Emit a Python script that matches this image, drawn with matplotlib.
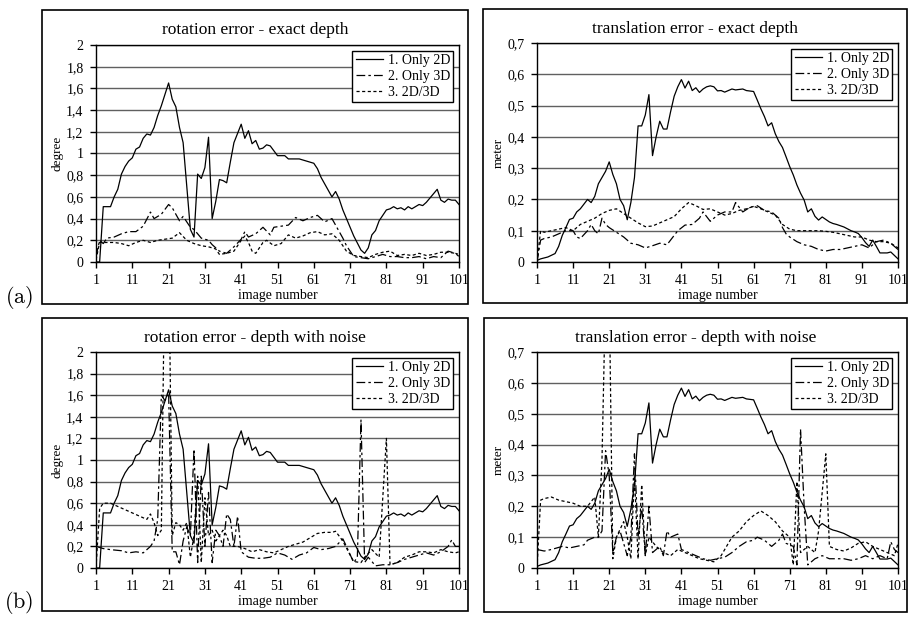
import matplotlib
matplotlib.use('Agg')  # no display here

import matplotlib.pyplot as plt
from matplotlib.patches import Rectangle

plt.rcParams['font.family'] = 'Liberation Serif'

W, H = 909, 617

image_ticks = [1, 11, 21, 31, 41, 51, 61, 71, 81, 91, 101]
rot_ticks = [0, 0.2, 0.4, 0.6, 0.8, 1.0, 1.2, 1.4, 1.6, 1.8, 2.0]
rot_tick_labels = ['0', '0,2', '0,4', '0,6', '0,8', '1', '1,2', '1,4', '1,6', '1,8', '2']
trans_ticks = [0, 0.1, 0.2, 0.3, 0.4, 0.5, 0.6, 0.7]
trans_tick_labels = ['0', '0,1', '0,2', '0,3', '0,4', '0,5', '0,6', '0,7']
series_names = ['1. Only 2D', '2. Only 3D', '3. 2D/3D']

# rotation error, only 2D (same curve in both rows)
rot_2d_x = [1, 2, 3, 5, 6, 7, 8, 9, 10, 11, 12, 13, 14, 15, 16, 17, 18, 19, 21, 22, 23, 24, 25,
            26, 27, 28, 29, 30, 31, 32, 33, 34, 35, 36, 37, 38, 39, 41, 42, 43, 44, 45, 46, 47,
            48, 49, 51, 53, 54, 57, 58, 59, 61, 62, 63, 64, 66, 67, 68, 69, 71, 72, 74, 75, 76,
            77, 78, 79, 81, 82, 83, 84, 85, 86, 87, 88, 89, 90, 91, 92, 94, 95, 96, 97, 98, 99,
            100, 101]
rot_2d_y = [0, 0, 0.51, 0.51, 0.6, 0.67, 0.81, 0.88, 0.93, 0.96, 1.04, 1.06, 1.14, 1.18, 1.17,
            1.24, 1.35, 1.44, 1.65, 1.5, 1.43, 1.24, 1.1, 0.7, 0.3, 0.23, 0.81, 0.77, 0.87, 1.15,
            0.4, 0.56, 0.76, 0.75, 0.73, 0.92, 1.1, 1.27, 1.14, 1.21, 1.09, 1.12, 1.04, 1.05, 1.08,
            1.07, 0.98, 0.98, 0.95, 0.95, 0.94, 0.93, 0.91, 0.86, 0.78, 0.72, 0.6, 0.65, 0.58,
            0.48, 0.32, 0.24, 0.11, 0.08, 0.13, 0.25, 0.29, 0.38, 0.48, 0.49, 0.51, 0.49, 0.5,
            0.48, 0.51, 0.49, 0.51, 0.53, 0.52, 0.55, 0.63, 0.67, 0.57, 0.55, 0.58, 0.57, 0.57,
            0.53]

# rotation error, exact depth
rot_ex_3d_x = [1, 2, 3, 4, 6, 8, 10, 12, 14, 16, 17, 19, 21, 22, 24, 25, 27, 28, 30, 32, 33, 35,
               37, 39, 41, 42, 43, 45, 47, 49, 50, 52, 54, 56, 58, 60, 62, 64, 66, 68, 69, 70,
               72, 74, 76, 78, 80, 82, 84, 86, 88, 90, 92, 94, 96, 98, 100, 101]
rot_ex_3d_y = [0.05, 0.2, 0.17, 0.22, 0.23, 0.26, 0.28, 0.28, 0.33, 0.46, 0.4, 0.44, 0.53, 0.5,
               0.38, 0.42, 0.32, 0.3, 0.22, 0.2, 0.16, 0.1, 0.08, 0.14, 0.21, 0.28, 0.23, 0.26,
               0.32, 0.25, 0.32, 0.33, 0.34, 0.41, 0.38, 0.41, 0.43, 0.37, 0.4, 0.28, 0.22, 0.15,
               0.05, 0.04, 0.03, 0.05, 0.07, 0.05, 0.05, 0.04, 0.04, 0.05, 0.03, 0.05, 0.04, 0.1,
               0.08, 0.07]
rot_ex_mix_x = [1, 2, 4, 6, 8, 10, 12, 14, 16, 18, 20, 22, 24, 26, 28, 30, 32, 34, 35, 37, 39,
                41, 42, 43, 44, 45, 47, 48, 50, 52, 54, 56, 58, 60, 62, 64, 66, 68, 69, 70, 72,
                74, 76, 78, 80, 82, 84, 86, 88, 90, 92, 94, 96, 98, 100, 101]
rot_ex_mix_y = [0.02, 0.18, 0.18, 0.18, 0.17, 0.15, 0.18, 0.2, 0.18, 0.2, 0.21, 0.22, 0.27, 0.2,
                0.17, 0.15, 0.14, 0.12, 0.07, 0.08, 0.1, 0.2, 0.24, 0.18, 0.1, 0.08, 0.18, 0.2,
                0.15, 0.17, 0.25, 0.22, 0.24, 0.27, 0.28, 0.25, 0.26, 0.2, 0.15, 0.1, 0.06, 0.05,
                0.04, 0.07, 0.09, 0.1, 0.06, 0.07, 0.06, 0.08, 0.06, 0.07, 0.09, 0.09, 0.08, 0.05]

# rotation error, depth with noise
rot_no_3d_x = [1, 3, 5, 8, 10, 12, 14, 16, 17, 18, 19, 20, 21, 22, 23, 24, 25, 26, 27, 28, 29,
               30, 31, 32, 33, 34, 35, 36, 37, 38, 39, 40, 41, 43, 45, 47, 49, 51, 53, 55, 57,
               59, 61, 63, 65, 67, 69, 70, 72, 73, 74, 75, 76, 78, 80, 82, 84, 86, 88, 90, 92,
               94, 96, 98, 99, 100, 101]
rot_no_3d_y = [0.2, 0.18, 0.17, 0.16, 0.14, 0.15, 0.14, 0.2, 0.25, 0.45, 1.6, 1.55, 1.62, 0.15,
               0.15, 0.03, 0.25, 0.38, 0.3, 1.1, 0.05, 0.85, 0.2, 0.7, 0.05, 0.35, 0.3, 0.2, 0.5,
               0.45, 0.2, 0.48, 0.15, 0.1, 0.09, 0.09, 0.1, 0.14, 0.12, 0.08, 0.12, 0.14, 0.19,
               0.17, 0.18, 0.2, 0.27, 0.2, 0.05, 0.1, 1.37, 0.05, 0.1, 0.02, 0.03, 0.03, 0.05,
               0.08, 0.1, 0.12, 0.14, 0.12, 0.15, 0.2, 0.26, 0.2, 0.2]
rot_no_mix_x = [1, 2, 3, 5, 7, 9, 11, 13, 15, 16, 17, 18, 19, 20, 21, 22, 23, 24, 25, 26, 27, 28,
                29, 30, 31, 32, 33, 34, 35, 36, 37, 38, 40, 42, 44, 46, 48, 50, 52, 54, 56, 58,
                60, 62, 64, 66, 67, 69, 71, 72, 74, 75, 77, 79, 81, 82, 84, 86, 88, 90, 92, 94,
                96, 98, 100, 101]
rot_no_mix_y = [0.0, 0.55, 0.6, 0.6, 0.57, 0.54, 0.51, 0.48, 0.45, 0.5, 0.42, 0.3, 0.35, 3.0,
                3.0, 0.3, 0.42, 0.4, 0.35, 0.42, 0.1, 0.3, 0.85, 0.05, 0.65, 0.3, 0.35, 0.25,
                0.3, 0.35, 0.3, 0.2, 0.2, 0.18, 0.15, 0.17, 0.15, 0.14, 0.17, 0.2, 0.22, 0.24,
                0.28, 0.32, 0.33, 0.33, 0.34, 0.25, 0.12, 0.06, 0.05, 0.1, 0.17, 0.1, 1.2, 0.03,
                0.05, 0.1, 0.12, 0.15, 0.15, 0.14, 0.17, 0.15, 0.14, 0.15]

# translation error, only 2D (same curve in both rows)
trans_2d_x = [1, 2, 4, 6, 7, 8, 9, 10, 11, 12, 13, 14, 15, 16, 17, 18, 19, 20, 21, 22, 23, 24,
              25, 26, 27, 28, 29, 30, 31, 32, 33, 34, 35, 36, 37, 38, 39, 40, 41, 42, 43, 44, 45,
              46, 47, 48, 49, 50, 51, 52, 53, 55, 56, 58, 59, 61, 62, 63, 64, 65, 66, 67, 68, 69,
              70, 71, 72, 73, 74, 75, 76, 77, 78, 79, 80, 81, 82, 83, 84, 86, 87, 88, 89, 90, 91,
              92, 93, 94, 95, 96, 98, 99, 100, 101]
trans_2d_y = [0.005, 0.01, 0.016, 0.027, 0.05, 0.085, 0.11, 0.136, 0.14, 0.16, 0.17, 0.185, 0.2,
              0.19, 0.21, 0.25, 0.27, 0.29, 0.32, 0.28, 0.25, 0.2, 0.18, 0.135, 0.19, 0.27,
              0.435, 0.435, 0.47, 0.535, 0.34, 0.4, 0.45, 0.425, 0.425, 0.48, 0.53, 0.56, 0.583,
              0.556, 0.578, 0.548, 0.557, 0.542, 0.553, 0.56, 0.563, 0.56, 0.547, 0.548, 0.543,
              0.553, 0.55, 0.553, 0.548, 0.545, 0.518, 0.49, 0.465, 0.435, 0.445, 0.41, 0.385,
              0.366, 0.336, 0.305, 0.278, 0.246, 0.22, 0.198, 0.16, 0.17, 0.146, 0.134, 0.144,
              0.136, 0.128, 0.123, 0.12, 0.112, 0.106, 0.1, 0.096, 0.091, 0.078, 0.062, 0.05,
              0.07, 0.05, 0.029, 0.029, 0.032, 0.021, 0.01]

# translation error, exact depth
trans_ex_3d_x = [1, 2, 3, 5, 7, 9, 11, 12, 13, 15, 16, 17, 18, 19, 20, 21, 23, 25, 27, 29, 31,
                 33, 35, 37, 38, 40, 42, 44, 46, 47, 49, 51, 53, 55, 56, 58, 60, 62, 64, 66, 68,
                 69, 70, 71, 73, 75, 77, 79, 81, 83, 85, 87, 89, 91, 93, 95, 97, 99, 101]
trans_ex_3d_y = [0.0, 0.07, 0.075, 0.08, 0.09, 0.1, 0.1, 0.08, 0.075, 0.1, 0.12, 0.1, 0.09, 0.14,
                 0.12, 0.11, 0.095, 0.08, 0.06, 0.055, 0.045, 0.052, 0.06, 0.055, 0.07, 0.1,
                 0.118, 0.12, 0.14, 0.16, 0.13, 0.15, 0.16, 0.16, 0.19, 0.16, 0.175, 0.18, 0.165,
                 0.16, 0.14, 0.11, 0.09, 0.08, 0.065, 0.055, 0.05, 0.04, 0.035, 0.04, 0.04, 0.045,
                 0.05, 0.055, 0.045, 0.065, 0.07, 0.06, 0.04]
trans_ex_mix_x = [1, 2, 3, 5, 7, 9, 11, 13, 15, 17, 19, 21, 23, 25, 27, 29, 31, 33, 35, 37, 39,
                  41, 43, 45, 47, 49, 51, 53, 55, 57, 59, 61, 63, 65, 67, 69, 71, 73, 75, 77, 79,
                  81, 83, 85, 87, 89, 91, 93, 95, 97, 99, 101]
trans_ex_mix_y = [0.0, 0.1, 0.095, 0.1, 0.105, 0.11, 0.1, 0.12, 0.13, 0.14, 0.155, 0.165, 0.17,
                  0.155, 0.14, 0.125, 0.113, 0.115, 0.125, 0.135, 0.145, 0.17, 0.19, 0.18, 0.168,
                  0.17, 0.16, 0.15, 0.155, 0.165, 0.17, 0.178, 0.17, 0.16, 0.15, 0.12, 0.105, 0.1,
                  0.1, 0.1, 0.1, 0.098, 0.095, 0.09, 0.085, 0.08, 0.08, 0.07, 0.065, 0.065, 0.06,
                  0.045]

# translation error, depth with noise
trans_no_3d_x = [1, 3, 5, 8, 10, 12, 14, 15, 17, 18, 19, 20, 21, 22, 23, 24, 26, 27, 28, 29, 30,
                 31, 32, 33, 35, 36, 37, 38, 40, 41, 43, 45, 47, 49, 51, 53, 55, 57, 59, 61, 62,
                 64, 66, 68, 69, 70, 72, 73, 74, 75, 76, 78, 80, 82, 84, 86, 88, 90, 92, 94, 96,
                 98, 99, 100, 101]
trans_no_3d_y = [0.06, 0.055, 0.06, 0.07, 0.065, 0.07, 0.075, 0.09, 0.1, 0.1, 0.12, 0.38, 0.3,
                 0.05, 0.1, 0.12, 0.04, 0.1, 0.37, 0.1, 0.2, 0.04, 0.2, 0.05, 0.07, 0.04, 0.12,
                 0.1, 0.11, 0.06, 0.05, 0.04, 0.03, 0.025, 0.03, 0.035, 0.05, 0.07, 0.085, 0.09,
                 0.1, 0.09, 0.07, 0.09, 0.11, 0.08, 0.07, 0.01, 0.45, 0.2, 0.01, 0.03, 0.04, 0.03,
                 0.03, 0.03, 0.025, 0.03, 0.04, 0.03, 0.04, 0.03, 0.085, 0.06, 0.05]
trans_no_mix_x = [1, 2, 3, 5, 7, 9, 11, 13, 15, 17, 18, 19, 20, 21, 22, 23, 25, 26, 27, 28, 29,
                  30, 31, 32, 34, 36, 38, 40, 42, 44, 46, 48, 50, 52, 54, 55, 57, 59, 61, 63, 65,
                  67, 69, 71, 72, 73, 74, 76, 78, 79, 81, 82, 84, 86, 88, 90, 92, 94, 96, 98, 100,
                  101]
trans_no_mix_y = [0.0, 0.22, 0.225, 0.23, 0.22, 0.215, 0.21, 0.2, 0.2, 0.23, 0.1, 0.35, 0.9, 0.9,
                  0.03, 0.1, 0.15, 0.1, 0.03, 0.3, 0.03, 0.27, 0.04, 0.1, 0.07, 0.05, 0.04, 0.06,
                  0.05, 0.04, 0.03, 0.025, 0.02, 0.04, 0.08, 0.1, 0.12, 0.15, 0.17, 0.185, 0.17,
                  0.15, 0.12, 0.1, 0.01, 0.28, 0.05, 0.07, 0.05, 0.12, 0.37, 0.07, 0.06, 0.055,
                  0.065, 0.08, 0.085, 0.07, 0.06, 0.05, 0.04, 0.08]

line_styles = ['-', (0, (7, 2.5, 2, 2.5)), (0, (2.5, 2))]


def px_rect(x0, y0, x1, y1):
    # pixel box (from top left) -> figure fraction rect
    return [x0 / W, 1 - y1 / H, (x1 - x0) / W, (y1 - y0) / H]


def draw_panel(fig, box, axbox, title, ylabel, ticks, tick_labels, series):
    fig.add_artist(Rectangle((box[0] / W, 1 - box[3] / H), (box[2] - box[0]) / W,
                             (box[3] - box[1]) / H, transform=fig.transFigure,
                             fill=False, edgecolor='black', linewidth=1.2))
    fig.text((box[0] + box[2]) / 2 / W, 1 - (box[1] + 20) / H, title,
             ha='center', va='center', fontsize=12.5)

    ax = fig.add_axes(px_rect(*axbox))
    for (xs, ys), name, ls in zip(series, series_names, line_styles):
        ax.plot(xs, ys, color='black', linestyle=ls, linewidth=0.9, label=name)

    ax.set_xlim(1, 101)
    ax.set_ylim(ticks[0], ticks[-1])
    ax.set_xticks(image_ticks)
    ax.set_yticks(ticks)
    ax.set_yticklabels(tick_labels)
    ax.yaxis.grid(True, color='#606060', linewidth=1.0)
    ax.set_axisbelow(True)
    ax.tick_params(direction='out', length=4, width=1, labelsize=10)
    ax.tick_params(axis='x', pad=5)
    ax.tick_params(axis='y', pad=5)
    for sp in ax.spines.values():
        sp.set_linewidth(1.0)
        sp.set_color('black')

    # axis label sits right under the tick numbers, as in the original
    ax_h = axbox[3] - axbox[1]
    ax.set_xlabel('image number', fontsize=10)
    ax.xaxis.set_label_coords(0.5, -27.5 / ax_h)
    ax.set_ylabel(ylabel, fontsize=9.5, labelpad=2)

    leg = ax.legend(loc='upper right', fontsize=10, frameon=True, fancybox=False,
                    edgecolor='black', framealpha=1, borderpad=0.25, labelspacing=0.2,
                    handlelength=2.0, handletextpad=0.3, borderaxespad=0.4)
    leg.get_frame().set_linewidth(1.0)
    return ax


def main():
    fig = plt.figure(figsize=(W / 100, H / 100), dpi=100)

    draw_panel(fig, (42, 10, 468, 304), (96, 45, 459, 262),
               'rotation error - exact depth', 'degree', rot_ticks, rot_tick_labels,
               [(rot_2d_x, rot_2d_y), (rot_ex_3d_x, rot_ex_3d_y), (rot_ex_mix_x, rot_ex_mix_y)])
    draw_panel(fig, (483, 9, 907, 303), (537, 43, 898, 262),
               'translation error - exact depth', 'meter', trans_ticks, trans_tick_labels,
               [(trans_2d_x, trans_2d_y), (trans_ex_3d_x, trans_ex_3d_y),
                (trans_ex_mix_x, trans_ex_mix_y)])
    draw_panel(fig, (42, 318, 468, 611), (96, 352, 459, 568),
               'rotation error - depth with noise', 'degree', rot_ticks, rot_tick_labels,
               [(rot_2d_x, rot_2d_y), (rot_no_3d_x, rot_no_3d_y), (rot_no_mix_x, rot_no_mix_y)])
    draw_panel(fig, (484, 318, 907, 612), (537, 352, 898, 568),
               'translation error - depth with noise', 'meter', trans_ticks, trans_tick_labels,
               [(trans_2d_x, trans_2d_y), (trans_no_3d_x, trans_no_3d_y),
                (trans_no_mix_x, trans_no_mix_y)])

    # panel row labels in a LaTeX-ish font
    fig.text(19 / W, 1 - 298 / H, r'$\mathrm{(a)}$', fontsize=16, ha='center', va='center',
             math_fontfamily='cm')
    fig.text(19 / W, 1 - 603 / H, r'$\mathrm{(b)}$', fontsize=16, ha='center', va='center',
             math_fontfamily='cm')

    fig.savefig('out.png', dpi=100)


if __name__ == '__main__':
    main()
